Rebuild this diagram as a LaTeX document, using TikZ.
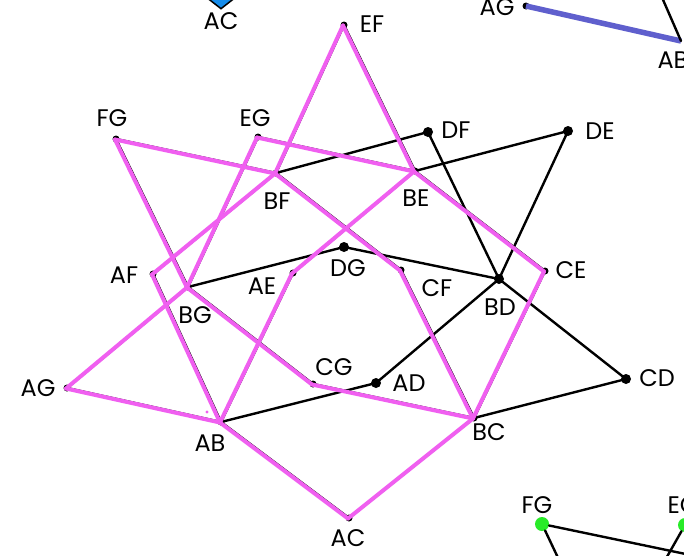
\documentclass[tikz,border=0pt]{standalone}
\usepackage{fontspec}
\setmainfont{Poppins}
\usetikzlibrary{shapes.geometric}
\definecolor{mag}{RGB}{240,95,240}
\definecolor{slate}{RGB}{95,95,205}
\definecolor{limeg}{RGB}{40,235,40}
\definecolor{skyb}{RGB}{20,140,235}
\begin{document}
\begin{tikzpicture}[x=1pt,y=-1pt,
  vtx/.style={circle,fill=black,inner sep=0pt,minimum size=7pt},
  dvtx/.style={circle,fill=black,inner sep=0pt,minimum size=10pt},
  gvtx/.style={circle,fill=limeg,inner sep=0pt,minimum size=14pt},
  lbl/.style={font=\fontsize{24}{24}\selectfont,inner sep=0pt},
  blk/.style={line width=2.4pt,black,line cap=round},
  hl/.style={line width=4pt,mag,line cap=round,line join=round}]
\useasboundingbox (0,0) rectangle (684,555);
\fill[white] (0,0) rectangle (684,555);
\clip (0,0) rectangle (684,555);

% vertices
\node[vtx]  (EF) at (344,25) {};
\node[vtx]  (FG) at (116,139) {};
\node[vtx]  (EG) at (258,137) {};
\node[dvtx] (DF) at (428,132) {};
\node[dvtx] (DE) at (568,131) {};
\node[vtx]  (BF) at (276,173) {};
\node[vtx]  (BE) at (415,171) {};
\node[vtx]  (AF) at (153,274) {};
\node[dvtx] (DG) at (344,247) {};
\node[vtx]  (AE) at (293,273) {};
\node[vtx]  (CF) at (401,270) {};
\node[vtx]  (CE) at (545,271) {};
\node[vtx]  (BG) at (188,287) {};
\node[dvtx] (BD) at (499,279) {};
\node[vtx]  (CG) at (313,384) {};
\node[dvtx] (AD) at (376,383) {};
\node[vtx]  (AG) at (67,388) {};
\node[dvtx] (CD) at (626,379) {};
\node[vtx]  (AB) at (221,422) {};
\node[vtx]  (BC) at (474,418) {};
\node[vtx]  (AC) at (349,518) {};

% black edges
\foreach \a/\b in {AC/AB,AC/BC,AD/AB,AD/BD,AE/AB,AE/BE,AF/AB,AF/BF,AG/AB,AG/BG,
  CD/BC,CD/BD,CE/BC,CE/BE,CF/BC,CF/BF,CG/BC,CG/BG,DE/BD,DE/BE,DF/BD,DF/BF,
  DG/BD,DG/BG,EF/BE,EF/BF,EG/BE,EG/BG,FG/BF,FG/BG}
  \draw[blk] (\a.center) -- (\b.center);

% highlighted edges
\foreach \a/\b in {AC/AB,AC/BC,AE/AB,AE/BE,AF/AB,AF/BF,AG/AB,AG/BG,
  CE/BC,CE/BE,CF/BC,CF/BF,CG/BC,CG/BG,EF/BE,EF/BF,EG/BE,EG/BG,FG/BF,FG/BG}
  \draw[hl] ([shift={(-1,0.5)}]\a.center) -- ([shift={(-1,0.5)}]\b.center);
\fill[mag] (207,412) circle (1.6);

% labels
\node[lbl] (lEF) at (372,24) {EF};
\node[lbl] (lFG) at (112,118) {FG};
\node[lbl] (lEG) at (255,118) {EG};
\node[lbl] (lDF) at (456,130) {DF};
\node[lbl] (lDE) at (600,131) {DE};
\node[lbl] (lBF) at (277,201) {BF};
\node[lbl] (lBE) at (416,198) {BE};
\node[lbl] (lAF) at (124,275) {AF};
\node[lbl] (lDG) at (348,268) {DG};
\node[lbl] (lAE) at (262,286) {AE};
\node[lbl] (lCF) at (437,288) {CF};
\node[lbl] (lCE) at (571,270) {CE};
\node[lbl] (lBG) at (195,315) {BG};
\node[lbl] (lBD) at (500,307) {BD};
\node[lbl] (lCG) at (334,367) {CG};
\node[lbl] (lAD) at (409,383) {AD};
\node[lbl] (lAG) at (38,388) {AG};
\node[lbl] (lCD) at (657,378) {CD};
\node[lbl] (lAB) at (210,443) {AB};
\node[lbl] (lBC) at (489,432) {BC};
\node[lbl] (lAC) at (348,538) {AC};

% partial elements at the edges
\node[diamond,draw=black,fill=skyb,line width=1.5pt,minimum width=28pt,minimum height=22pt,inner sep=0pt] (ACt) at (221,-2) {};
\node[lbl] (lACt) at (221,21) {AC};
\node[vtx] (AGt) at (526,6) {};
\coordinate (ABt) at (681,41);
\coordinate (topx) at (657,-14);
\draw[line width=5.5pt,slate] (AGt.center) -- (ABt);
\draw[blk] (ABt) -- (topx);
\node[lbl] (lAGt) at (497,7) {AG};
\node[lbl] (lABt) at (673,60) {AB};

\node[gvtx] (FGb) at (542,524) {};
\node[gvtx] (EGb) at (685,525) {};
\coordinate (bx1) at (700,557);
\coordinate (bx2) at (560,562);
\coordinate (bx3) at (664,562);
\draw[blk] (FGb) -- (bx1);
\draw[blk] (FGb) -- (bx2);
\draw[blk] (EGb) -- (bx3);
\node[lbl] (lFGb) at (537,505) {FG};
\node[lbl] (lEGb) at (683,505) {EG};
\end{tikzpicture}
\end{document}
